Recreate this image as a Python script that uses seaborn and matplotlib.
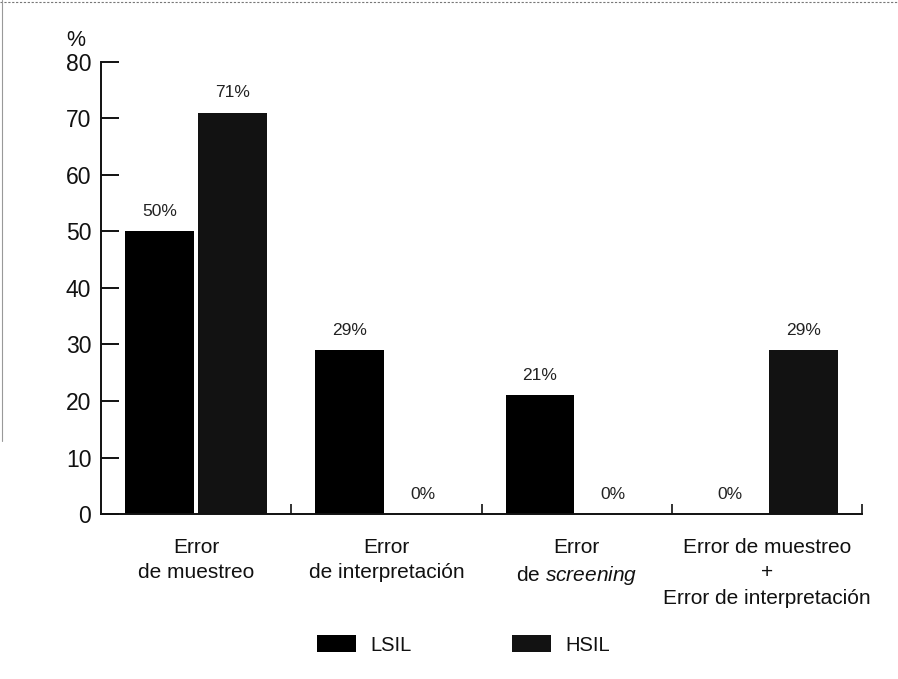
import matplotlib
matplotlib.use("Agg")
import matplotlib.pyplot as plt
from matplotlib.patches import Patch
from matplotlib.lines import Line2D
import seaborn as sns
import pandas as pd

categories = [
    "Error\nde muestreo",
    "Error\nde interpretación",
    "Error\nde $\\it{screening}$",
    "Error de muestreo\n+\nError de interpretación",
]
groups = ["LSIL", "HSIL"]
lsil = [50, 29, 21, 0]
hsil = [71, 0, 0, 29]
y_ticks = [0, 10, 20, 30, 40, 50, 60, 70, 80]

df = pd.DataFrame({
    "cat": categories * 2,
    "grupo": ["LSIL"] * 4 + ["HSIL"] * 4,
    "valor": lsil + hsil,
})

sns.set_theme(style="white")
plt.rcParams["font.family"] = ["Liberation Sans", "DejaVu Sans"]
plt.rcParams["mathtext.fontset"] = "custom"
plt.rcParams["mathtext.rm"] = "Liberation Sans"
plt.rcParams["mathtext.it"] = "Liberation Sans:italic"

ink = "#111111"
colors = {"LSIL": "#000000", "HSIL": "#121212"}

fig = plt.figure(figsize=(8.98, 6.79), dpi=100)
ax = fig.add_axes([0.1125, 0.243, 0.8475, 0.6657])

sns.barplot(data=df, x="cat", y="valor", hue="grupo", hue_order=groups,
            order=categories, palette=colors, width=0.77, gap=0.06,
            linewidth=0, legend=False, ax=ax)

# value labels above each bar
for container in ax.containers:
    for bar in container:
        h = bar.get_height()
        ax.annotate(f"{h:.0f}%", (bar.get_x() + bar.get_width() / 2, h),
                    xytext=(0, 9), textcoords="offset points",
                    ha="center", va="bottom", fontsize=12.5, color="#222222")

ax.set_xlim(-0.5, 3.5)
ax.set_ylim(0, 80)
ax.set_yticks(y_ticks)
ax.set_xlabel("")
ax.set_ylabel("")

for side in ["top", "right"]:
    ax.spines[side].set_visible(False)
for side in ["left", "bottom"]:
    ax.spines[side].set_color(ink)
    ax.spines[side].set_linewidth(1.4)

ax.tick_params(axis="y", direction="in", length=13, width=1.4,
               color=ink, labelsize=16.5, pad=7, left=True, labelcolor=ink)
ax.tick_params(axis="x", which="major", length=0, labelsize=15, pad=17,
               labelcolor=ink)
for lbl in ax.get_xticklabels():
    lbl.set_linespacing(1.45)
ax.set_xticks([0.5, 1.5, 2.5, 3.5], minor=True)
ax.tick_params(axis="x", which="minor", direction="in", length=7,
               width=1.2, color=ink, bottom=True)

fig.text(0.084, 0.925, "%", fontsize=15.5, ha="center", va="bottom", color=ink)

handles = [Patch(facecolor=colors[g], edgecolor="none") for g in groups]
fig.legend(handles, groups, loc="center", bbox_to_anchor=(0.516, 0.05),
           ncol=2, frameon=False, fontsize=14.5, handlelength=1.95,
           handleheight=0.9, columnspacing=5.0, handletextpad=0.7,
           labelcolor=ink)

# page edges of the printed figure
fig.add_artist(Line2D([0, 1], [0.997, 0.997], transform=fig.transFigure,
                      color="#777777", lw=0.8, ls=(0, (2, 1.5))))
fig.add_artist(Line2D([0.002, 0.002], [0.35, 1], transform=fig.transFigure,
                      color="#999999", lw=0.8))

fig.savefig("out.png", dpi=100, facecolor="white")
